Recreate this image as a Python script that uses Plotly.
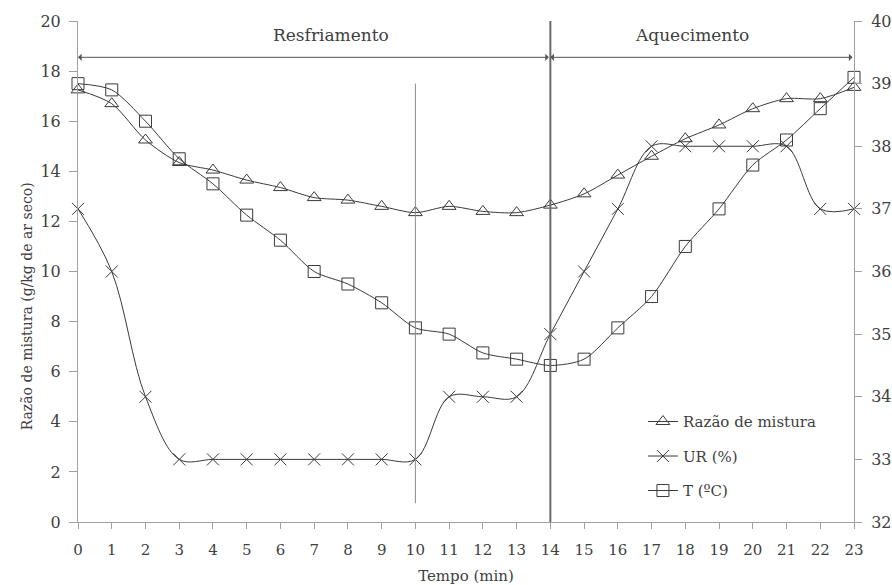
import plotly.graph_objects as go

# ---- data ----
tempo = list(range(0, 24))
razao = [17.25, 16.7, 15.25, 14.35, 14.05, 13.65, 13.35, 12.95, 12.85, 12.6, 12.35, 12.6,
         12.4, 12.35, 12.65, 13.1, 13.85, 14.6, 15.3, 15.85, 16.5, 16.9, 16.9, 17.35]
ur = [12.5, 10, 5, 2.5, 2.5, 2.5, 2.5, 2.5, 2.5, 2.5, 2.5, 5, 5, 5, 7.5, 10, 12.5, 15,
      15, 15, 15, 15, 12.5, 12.5]
temp_c = [39.0, 38.9, 38.4, 37.8, 37.4, 36.9, 36.5, 36.0, 35.8, 35.5, 35.1, 35.0, 34.7,
          34.6, 34.5, 34.6, 35.1, 35.6, 36.4, 37.0, 37.7, 38.1, 38.6, 39.1]
x_ticks = list(range(0, 24))
y_left_ticks = list(range(0, 21, 2))
y_right_ticks = list(range(32, 41))
phase_edges = [0, 14, 23]
phase_labels = ["Resfriamento", "Aquecimento"]
phase_label_x = [7.5, 18.2]
marker_line_x = 10

FONT = "DejaVu Serif"
LINE = "#3a3a3a"
AXIS = "#a0a0a0"
TXT = "#404040"

fig = go.Figure()
fig.add_trace(go.Scatter(
    x=tempo, y=razao, name="Razão de mistura", mode="lines+markers",
    line=dict(color=LINE, width=1, shape="spline", smoothing=0.8),
    marker=dict(symbol="triangle-up-open", size=12, color=LINE, line=dict(width=1)),
    cliponaxis=False, legendgroup="a"))
fig.add_trace(go.Scatter(
    x=tempo, y=ur, name="UR (%)", mode="lines+markers",
    line=dict(color=LINE, width=1, shape="spline", smoothing=1),
    marker=dict(symbol="x-thin-open", size=12, color=LINE, line=dict(width=1, color=LINE)),
    cliponaxis=False, legendgroup="b"))
fig.add_trace(go.Scatter(
    x=tempo, y=temp_c, name="T (ºC)", mode="lines+markers", yaxis="y2",
    line=dict(color=LINE, width=1, shape="spline", smoothing=0.8),
    marker=dict(symbol="square-open", size=12, color=LINE, line=dict(width=1)),
    cliponaxis=False, legendgroup="c"))

# phase dividers
fig.add_shape(type="line", xref="x", yref="y", x0=marker_line_x, x1=marker_line_x,
              y0=0.75, y1=17.5, line=dict(color="#8a8a8a", width=1))
fig.add_shape(type="line", xref="x", yref="y", x0=phase_edges[1], x1=phase_edges[1],
              y0=0, y1=20, line=dict(color="#6a6a6a", width=2))

arrow_y = 18.55
for i, lab in enumerate(phase_labels):
    fig.add_annotation(x=phase_edges[i], y=arrow_y, ax=phase_edges[i + 1], ay=arrow_y,
                       xref="x", yref="y", axref="x", ayref="y", text="",
                       showarrow=True, arrowside="end+start", arrowhead=1,
                       arrowsize=1.2, arrowwidth=1, arrowcolor="#555555")
    fig.add_annotation(x=phase_label_x[i], y=19.45, xref="x", yref="y", text=lab,
                       showarrow=False, font=dict(family=FONT, size=17, color=TXT))

# left axis title (offset as in the original)
fig.add_annotation(x=-0.066, y=0.43, xref="paper", yref="paper",
                   text="Razão de mistura (g/kg de ar seco)", textangle=-90,
                   showarrow=False, xanchor="center", yanchor="middle",
                   font=dict(family=FONT, size=14, color=TXT))

fig.update_layout(
    width=892, height=585, margin=dict(l=78, r=38, t=21, b=63),
    paper_bgcolor="white", plot_bgcolor="white",
    font=dict(family=FONT, size=15, color=TXT),
    showlegend=True,
    legend=dict(x=0.728, y=0.233, xanchor="left", yanchor="top",
                bgcolor="rgba(0,0,0,0)", tracegroupgap=12,
                font=dict(family=FONT, size=15, color=TXT), itemwidth=30),
    xaxis=dict(range=[0, 23], tickvals=x_ticks, showline=True, linecolor=AXIS, linewidth=1,
               ticks="outside", ticklen=6, tickcolor=AXIS, showgrid=False, zeroline=False,
               ticklabelstandoff=8, tickfont=dict(size=15), automargin=False,
               title=dict(text="Tempo (min)", font=dict(family=FONT, size=15, color=TXT),
                          standoff=13)),
    yaxis=dict(range=[0, 20], tickvals=y_left_ticks, showline=True, linecolor=AXIS,
               linewidth=1, ticks="outside", ticklen=8, tickcolor=AXIS, showgrid=False,
               zeroline=False, ticklabelstandoff=5, tickfont=dict(size=16), automargin=False),
    yaxis2=dict(range=[32, 40], tickvals=y_right_ticks, overlaying="y", side="right",
                showline=True, linecolor=AXIS, linewidth=1, ticks="outside", ticklen=7,
                tickcolor=AXIS, showgrid=False, zeroline=False, ticklabelstandoff=6,
                tickfont=dict(size=16), automargin=False),
)

fig.write_html("out.html")
